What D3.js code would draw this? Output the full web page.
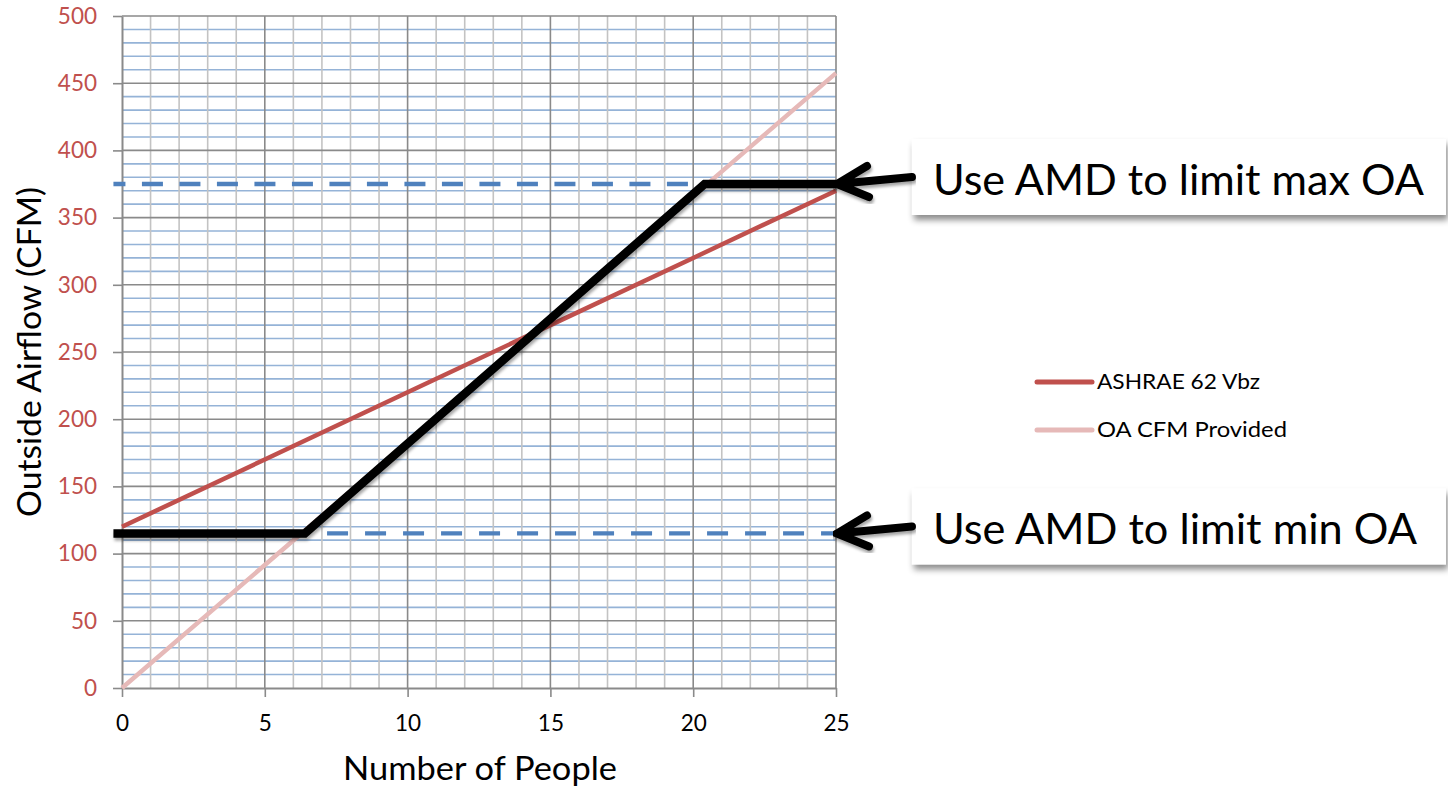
<!DOCTYPE html>
<html>
<head>
<meta charset="utf-8">
<script src="https://cdn.jsdelivr.net/npm/d3@7"></script>
<style>
  html, body { margin: 0; padding: 0; background: #fff; }
  svg { display: block; }
  text { font-family: Lato, "Open Sans", sans-serif; }
</style>
</head>
<body>
<svg id="chart" width="1448" height="788"></svg>
<script>
// ---------- data ----------
const people = [0, 5, 10, 15, 20, 25];
const ashraeVbz = [120, 170, 220, 270, 320, 370];
const oaProvided = [0, 91.5, 183, 274.5, 366, 457.5];
const amdPeople = [-0.3, 6.4, 20.4, 25];
const amdCfm = [115, 115, 375, 375];
const limitValues = [375, 115];
const limitFrom = [-0.3, 7.18];
const limitTo = [20.4, 25];
const annotationLabels = ["Use AMD to limit max OA", "Use AMD to limit min OA"];
const annotationLengths = [491, 484];
const legendLabels = ["ASHRAE 62 Vbz", "OA CFM Provided"];
const legendLengths = [163, 190];
const xTickValues = [0, 5, 10, 15, 20, 25];
const yTickValues = [0, 50, 100, 150, 200, 250, 300, 350, 400, 450, 500];
const xTitle = "Number of People";
const yTitle = "Outside Airflow (CFM)";

// ---------- setup ----------
const svg = d3.select("#chart");
const x = d3.scaleLinear().domain([0, 25]).range([122, 836]);
const y = d3.scaleLinear().domain([0, 500]).range([688, 16]);

const defs = svg.append("defs");
defs.append("filter").attr("id", "lineShadow").attr("x", "-5%").attr("y", "-20%").attr("width", "110%").attr("height", "140%")
  .append("feDropShadow").attr("dx", 1).attr("dy", 3).attr("stdDeviation", 1.8)
  .attr("flood-color", "#000").attr("flood-opacity", 0.35);
defs.append("filter").attr("id", "boxShadow").attr("x", "-5%").attr("y", "-20%").attr("width", "110%").attr("height", "150%")
  .append("feDropShadow").attr("dx", 2).attr("dy", 5).attr("stdDeviation", 3)
  .attr("flood-color", "#000").attr("flood-opacity", 0.45);

// ---------- grid ----------
const grid = svg.append("g");
grid.selectAll(".hmin").data(d3.range(10, 500, 10).filter(v => v % 50 !== 0)).join("line")
  .attr("x1", x(0)).attr("x2", x(25)).attr("y1", d => y(d)).attr("y2", d => y(d))
  .attr("stroke", "#95b3d7").attr("stroke-width", 1.6);
grid.selectAll(".vmin").data(d3.range(1, 25).filter(v => v % 5 !== 0)).join("line")
  .attr("x1", d => x(d)).attr("x2", d => x(d)).attr("y1", y(0)).attr("y2", y(500))
  .attr("stroke", "#c3c3c3").attr("stroke-width", 1.6);
grid.selectAll(".hmaj").data(yTickValues.filter(v => v > 0)).join("line")
  .attr("x1", x(0)).attr("x2", x(25)).attr("y1", d => y(d)).attr("y2", d => y(d))
  .attr("stroke", "#8a8a8a").attr("stroke-width", 1.6);
grid.selectAll(".vmaj").data(xTickValues.filter(v => v > 0)).join("line")
  .attr("x1", d => x(d)).attr("x2", d => x(d)).attr("y1", y(0)).attr("y2", y(500))
  .attr("stroke", "#8a8a8a").attr("stroke-width", 1.6);

// ---------- axes ----------
const yAxis = svg.append("g").attr("transform", `translate(${x(0)},0)`)
  .call(d3.axisLeft(y).tickValues(yTickValues).tickSize(9).tickSizeOuter(0).tickPadding(16));
yAxis.select(".domain").attr("stroke", "#8a8a8a").attr("stroke-width", 2);
yAxis.selectAll(".tick line").attr("stroke", "#8a8a8a").attr("stroke-width", 1.6);
yAxis.selectAll(".tick text").attr("fill", "#c0504d").style("font-size", "22.5px")
  .style("font-family", "Lato, 'Open Sans', sans-serif");

const xAxis = svg.append("g").attr("transform", `translate(0,${y(0)})`)
  .call(d3.axisBottom(x).tickValues(xTickValues).tickSize(9).tickSizeOuter(0).tickPadding(18));
xAxis.select(".domain").attr("stroke", "#8a8a8a").attr("stroke-width", 2);
xAxis.selectAll(".tick line").attr("stroke", "#8a8a8a").attr("stroke-width", 1.6);
xAxis.selectAll(".tick text").attr("fill", "#000").style("font-size", "22.5px")
  .style("font-family", "Lato, 'Open Sans', sans-serif");

// axis titles
svg.append("text").attr("x", 480).attr("y", 780).attr("text-anchor", "middle")
  .attr("textLength", 274).attr("lengthAdjust", "spacingAndGlyphs")
  .style("font-size", "33px").attr("fill", "#000").text(xTitle);
svg.append("text").attr("transform", "translate(41,352) rotate(-90)").attr("text-anchor", "middle")
  .attr("textLength", 330).attr("lengthAdjust", "spacingAndGlyphs")
  .style("font-size", "33px").attr("fill", "#000").text(yTitle);

// ---------- series ----------
const line = d3.line().x(d => x(d[0])).y(d => y(d[1]));
svg.append("path").datum(people.map((p, i) => [p, oaProvided[i]]))
  .attr("d", line).attr("fill", "none").attr("stroke", "#e6b9b8").attr("stroke-width", 4.5);
svg.append("path").datum(people.map((p, i) => [p, ashraeVbz[i]]))
  .attr("d", line).attr("fill", "none").attr("stroke", "#c0504d").attr("stroke-width", 4.5);

// dashed limits
svg.selectAll(".limit").data(limitValues).join("line")
  .attr("x1", (d, i) => x(limitFrom[i])).attr("x2", (d, i) => x(limitTo[i]))
  .attr("y1", d => y(d)).attr("y2", d => y(d))
  .attr("stroke", "#4f81bd").attr("stroke-width", 4.3)
  .attr("stroke-dasharray", (d, i) => i === 0 ? "21 16.5" : "21 17")
  .attr("stroke-dashoffset", (d, i) => i === 0 ? 9 : 0);

// AMD controlled line
svg.append("path").datum(amdPeople.map((p, i) => [p, amdCfm[i]]))
  .attr("d", line).attr("fill", "none").attr("stroke", "#000").attr("stroke-width", 8.5)
  .attr("stroke-linejoin", "miter").attr("filter", "url(#lineShadow)");

// ---------- annotations ----------
const ann = svg.selectAll(".ann").data(limitValues).join("g");
ann.append("rect")
  .attr("x", x(27.66)).attr("y", d => y(d) - 45).attr("width", 534).attr("height", 76)
  .attr("fill", "#fff").attr("filter", "url(#boxShadow)");
ann.append("text")
  .attr("x", x(27.66) + 21).attr("y", d => y(d) + 11)
  .attr("textLength", (d, i) => annotationLengths[i]).attr("lengthAdjust", "spacingAndGlyphs")
  .style("font-size", "43px").attr("fill", "#000")
  .text((d, i) => annotationLabels[i]);
ann.append("path")
  .attr("d", d => {
    const tx = x(25) + 1, ty = y(d);
    return `M${x(27.66)},${ty - 7} L${tx},${ty} M${tx + 30},${ty - 18} L${tx},${ty} L${tx + 32},${ty + 13}`;
  })
  .attr("fill", "none").attr("stroke", "#000").attr("stroke-width", 8)
  .attr("stroke-linecap", "round").attr("stroke-linejoin", "miter")
  .attr("filter", "url(#lineShadow)");

// ---------- legend ----------
const legendColors = ["#c0504d", "#e6b9b8"];
const legendY = [382, 430];
const lg = svg.selectAll(".lg").data(legendLabels).join("g");
lg.append("line").attr("x1", 1037).attr("x2", 1092)
  .attr("y1", (d, i) => legendY[i]).attr("y2", (d, i) => legendY[i])
  .attr("stroke", (d, i) => legendColors[i]).attr("stroke-width", 5).attr("stroke-linecap", "round");
lg.append("text").attr("x", 1097).attr("y", (d, i) => legendY[i] + 7)
  .attr("textLength", (d, i) => legendLengths[i]).attr("lengthAdjust", "spacingAndGlyphs")
  .style("font-size", "21px").attr("fill", "#000").text(d => d);
</script>
</body>
</html>
